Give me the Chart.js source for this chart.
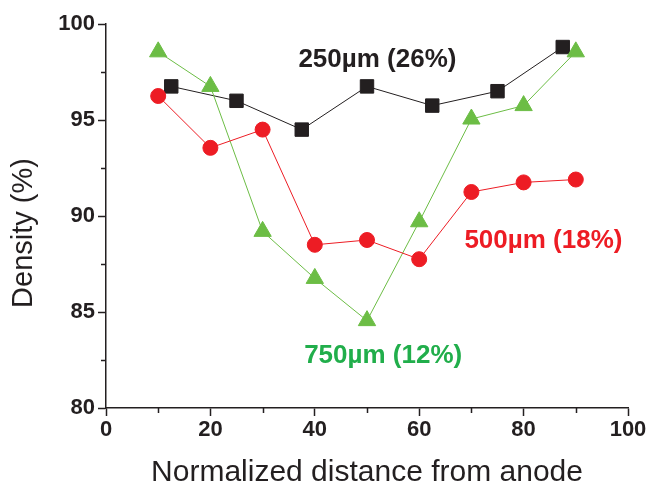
<!DOCTYPE html>
<html>
<head>
<meta charset="utf-8">
<script src="https://cdn.jsdelivr.net/npm/chart.js@4"></script>
<style>
  html, body { margin: 0; padding: 0; background: #fff; }
  #wrap { width: 651px; height: 487px; }
</style>
</head>
<body>
<div id="wrap"><canvas id="densityChart" width="651" height="487"></canvas></div>
<script>
// distance along the sample (normalized, %)
const x250 = [12.5, 25, 37.5, 50, 62.5, 75, 87.5];
const x500 = [10, 20, 30, 40, 50, 60, 70, 80, 90];
const x750 = [10, 20, 30, 40, 50, 60, 70, 80, 90];

// density (%)
const density250 = [96.75, 96.0, 94.5, 96.75, 95.75, 96.5, 98.8];
const density500 = [96.25, 93.55, 94.5, 88.5, 88.75, 87.75, 91.25, 91.75, 91.9];
const density750 = [98.55, 96.75, 89.2, 86.75, 84.55, 89.7, 95.05, 95.75, 98.55];

const seriesNames = ['250µm (26%)', '500µm (18%)', '750µm (12%)'];

const xTicks = [0, 20, 40, 60, 80, 100];
const yTicks = [80, 85, 90, 95, 100];
const xMinorTicks = [10, 30, 50, 70, 90];
const yMinorTicks = [82.5, 87.5, 92.5, 97.5];

const BLACK = '#231f20';
const RED = '#ed1c24';
const GREEN = '#6cbd45';
const GREEN_TEXT = '#21ae4b';

const toPoints = (xs, ys) => xs.map((x, i) => ({ x: x, y: ys[i] }));

// series labels, anchored in data coordinates
const labelAnchors = [
  { text: seriesNames[0], x: 52.0, y: 98.15, color: BLACK },
  { text: seriesNames[1], x: 83.8, y: 88.7, color: RED },
  { text: seriesNames[2], x: 53.1, y: 82.7, color: GREEN_TEXT }
];

const extrasPlugin = {
  id: 'extras',
  afterDraw(chart) {
    const ctx = chart.ctx;
    const xs = chart.scales.x;
    const ys = chart.scales.y;
    const area = chart.chartArea;
    ctx.save();

    // minor ticks
    ctx.strokeStyle = BLACK;
    ctx.lineWidth = 1.5;
    ctx.beginPath();
    xMinorTicks.forEach(v => {
      const px = Math.round(xs.getPixelForValue(v)) + 0.5;
      ctx.moveTo(px, area.bottom);
      ctx.lineTo(px, area.bottom + 5);
    });
    yMinorTicks.forEach(v => {
      const py = Math.round(ys.getPixelForValue(v)) + 0.5;
      ctx.moveTo(area.left, py);
      ctx.lineTo(area.left - 5, py);
    });
    ctx.stroke();

    // series labels
    ctx.font = 'bold 26px "Liberation Sans", Arial, sans-serif';
    ctx.textAlign = 'center';
    ctx.textBaseline = 'middle';
    labelAnchors.forEach(l => {
      ctx.fillStyle = l.color;
      ctx.fillText(l.text, xs.getPixelForValue(l.x), ys.getPixelForValue(l.y));
    });

    // axis titles
    ctx.fillStyle = BLACK;
    ctx.font = '30px "Liberation Sans", Arial, sans-serif';
    ctx.fillText('Normalized distance from anode', (area.left + area.right) / 2, 473);
    ctx.save();
    ctx.translate(24, 233);
    ctx.rotate(-Math.PI / 2);
    ctx.font = '29px "Liberation Sans", Arial, sans-serif';
    ctx.fillText('Density (%)', 0, 0);
    ctx.restore();

    ctx.restore();
  }
};

const lineSet = (label, data, color, style, radius) => ({
  label: label,
  data: data,
  showLine: true,
  borderColor: color,
  borderWidth: 1,
  backgroundColor: color,
  pointStyle: style,
  pointRadius: radius,
  pointHoverRadius: radius,
  pointBorderWidth: 1,
  pointBorderColor: color,
  pointBackgroundColor: color
});

new Chart(document.getElementById('densityChart'), {
  type: 'scatter',
  data: {
    datasets: [
      lineSet(seriesNames[1], toPoints(x500, density500), RED, 'circle', 7.5),
      lineSet(seriesNames[2], toPoints(x750, density750), GREEN, 'triangle', 10),
      lineSet(seriesNames[0], toPoints(x250, density250), BLACK, 'rect', 9.5)
    ]
  },
  options: {
    responsive: false,
    animation: false,
    layout: { padding: { left: 0, right: 23, top: 24, bottom: 0 } },
    plugins: {
      legend: { display: false },
      tooltip: { enabled: false }
    },
    scales: {
      x: {
        type: 'linear',
        min: 0,
        max: 100,
        afterFit: s => { s.height = 79; },
        afterBuildTicks: s => { s.ticks = xTicks.map(v => ({ value: v })); },
        border: { color: BLACK, width: 1.5 },
        grid: { drawOnChartArea: false, drawTicks: true, tickLength: 8, tickColor: BLACK, tickWidth: 1.5 },
        ticks: {
          color: BLACK,
          padding: 1,
          maxRotation: 0,
          font: { family: '"Liberation Sans", Arial, sans-serif', size: 22, weight: 'bold' }
        }
      },
      y: {
        type: 'linear',
        min: 80,
        max: 100,
        afterFit: s => { s.width = 106; },
        afterBuildTicks: s => { s.ticks = yTicks.map(v => ({ value: v })); },
        border: { color: BLACK, width: 1.5 },
        grid: { drawOnChartArea: false, drawTicks: true, tickLength: 8, tickColor: BLACK, tickWidth: 1.5 },
        ticks: {
          color: BLACK,
          padding: 3,
          font: { family: '"Liberation Sans", Arial, sans-serif', size: 22, weight: 'bold' }
        }
      }
    }
  },
  plugins: [extrasPlugin]
});
</script>
</body>
</html>
